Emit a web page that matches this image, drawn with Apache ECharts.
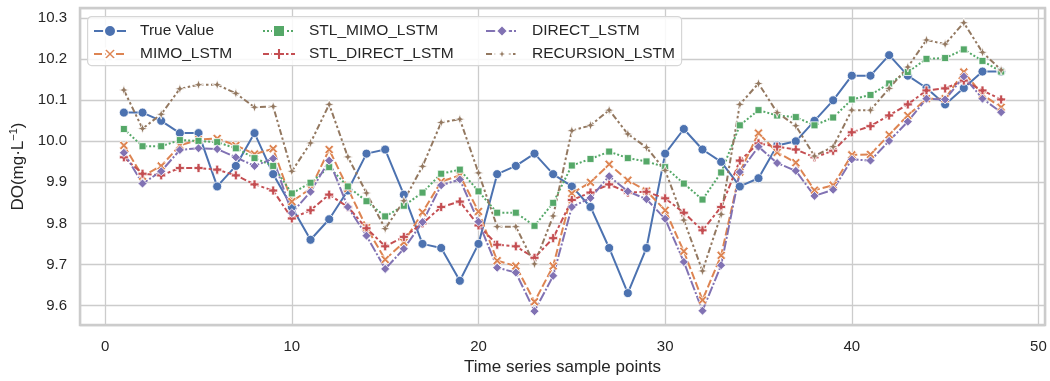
<!DOCTYPE html>
<html>
<head>
<meta charset="utf-8">
<script src="https://cdn.jsdelivr.net/npm/echarts@6/dist/echarts.min.js"></script>
<style>
  html, body { margin: 0; padding: 0; background: #fff; }
  #chart { width: 1050px; height: 381px; }
</style>
</head>
<body>
<div id="chart"></div>
<script>
// sample point index (x)
const samplePoints = [1,2,3,4,5,6,7,8,9,10,11,12,13,14,15,16,17,18,19,20,21,22,23,24,
  25,26,27,28,29,30,31,32,33,34,35,36,37,38,39,40,41,42,43,44,45,46,47,48];

const trueValue = [10.07,10.07,10.05,10.02,10.02,9.89,9.94,10.02,9.92,9.84,9.76,9.81,
  9.88,9.97,9.98,9.87,9.75,9.74,9.66,9.75,9.92,9.94,9.97,9.92,
  9.89,9.84,9.74,9.63,9.74,9.97,10.03,9.98,9.95,9.89,9.91,9.99,
  10.0,10.05,10.10,10.16,10.16,10.21,10.16,10.13,10.09,10.13,10.17,10.17];

const mimoLstm = [9.99,9.915,9.94,9.99,10.004,10.007,9.99,9.969,9.982,9.853,9.885,9.98,
  9.885,9.79,9.712,9.754,9.827,9.902,9.917,9.829,9.709,9.696,9.609,9.696,
  9.873,9.90,9.944,9.905,9.879,9.832,9.732,9.613,9.722,9.925,10.02,9.973,
  9.948,9.881,9.893,9.967,9.968,10.016,10.063,10.104,10.104,10.169,10.114,10.083];

const stlMimoLstm = [10.03,9.988,9.988,10.003,10.001,9.998,9.983,9.959,9.94,9.873,9.899,9.937,
  9.89,9.854,9.817,9.843,9.875,9.921,9.931,9.878,9.826,9.826,9.794,9.85,
  9.941,9.957,9.975,9.959,9.951,9.937,9.897,9.858,9.924,10.039,10.076,10.063,
  10.059,10.039,10.058,10.102,10.113,10.141,10.169,10.201,10.203,10.224,10.196,10.17];

const stlDirectLstm = [9.961,9.921,9.917,9.935,9.935,9.931,9.917,9.895,9.88,9.812,9.832,9.87,
  9.84,9.788,9.744,9.767,9.80,9.84,9.853,9.795,9.748,9.744,9.716,9.764,
  9.857,9.875,9.895,9.875,9.877,9.861,9.826,9.783,9.84,9.953,9.995,9.987,
  9.98,9.961,9.977,10.022,10.037,10.063,10.09,10.124,10.129,10.148,10.124,10.102];

const directLstm = [9.972,9.897,9.927,9.979,9.983,9.981,9.961,9.94,9.958,9.825,9.877,9.953,
  9.84,9.77,9.689,9.738,9.803,9.893,9.907,9.804,9.692,9.68,9.586,9.672,
  9.84,9.862,9.915,9.878,9.859,9.811,9.706,9.587,9.698,9.925,9.987,9.947,
  9.928,9.867,9.882,9.956,9.953,10.001,10.048,10.104,10.102,10.158,10.104,10.071];

const recursionLstm = [10.125,10.031,10.066,10.128,10.138,10.138,10.117,10.083,10.085,9.927,9.996,10.09,
  9.962,9.874,9.787,9.855,9.939,10.046,10.054,9.923,9.792,9.792,9.701,9.818,
  10.026,10.039,10.076,10.018,9.985,9.929,9.808,9.684,9.822,10.09,10.141,10.07,
  10.038,9.964,9.987,10.076,10.076,10.129,10.181,10.247,10.237,10.289,10.217,10.174];

const FONT = '"Liberation Sans", Arial, sans-serif';
const TEXT = '#262626';

// marker shapes (seaborn-like)
const X_MARK = 'path://M2,0L5,3L8,0L10,2L7,5L10,8L8,10L5,7L2,10L0,8L3,5L0,2Z';
const PLUS_MARK = 'path://M3.3,0H6.7V3.3H10V6.7H6.7V10H3.3V6.7H0V3.3H3.3Z';
const STAR4_MARK = 'path://M5,0L6.3,3.7L10,5L6.3,6.3L5,10L3.7,6.3L0,5L3.7,3.7Z';

function makeSeries(name, values, color, symbol, size, dash) {
  return {
    name: name,
    type: 'line',
    data: samplePoints.map((x, i) => [x, values[i]]),
    symbol: symbol,
    symbolSize: size,
    showAllSymbol: true,
    lineStyle: { color: color, width: 2, type: dash },
    itemStyle: { color: color, borderColor: '#ffffff', borderWidth: 0.8 },
    emphasis: { disabled: true },
    animation: false
  };
}

const chart = echarts.init(document.getElementById('chart'));

const legendBase = {
  orient: 'vertical',
  top: 23,
  padding: 0,
  itemGap: 7,
  itemWidth: 32,
  itemHeight: 15,
  z: 5,
  textStyle: { fontFamily: FONT, fontSize: 15.5, color: TEXT, padding: [0, 0, 0, 9] }
};

const option = {
  backgroundColor: '#ffffff',
  animation: false,
  grid: {
    left: 79, right: 5, top: 8, bottom: 53,
    show: true,
    borderColor: '#cccccc',
    borderWidth: 2.5,
    backgroundColor: 'transparent'
  },
  graphic: [{
    type: 'rect',
    left: 87, top: 16, z: 4,
    shape: { width: 594, height: 49, r: 4 },
    style: { fill: 'rgba(255,255,255,0.85)', stroke: '#d6d6d6', lineWidth: 1.2 }
  }],
  legend: [
    Object.assign({}, legendBase, { left: 93, data: ['True Value', 'MIMO_LSTM'] }),
    Object.assign({}, legendBase, { left: 262, data: ['STL_MIMO_LSTM', 'STL_DIRECT_LSTM'] }),
    Object.assign({}, legendBase, { left: 485, data: ['DIRECT_LSTM', 'RECURSION_LSTM'] })
  ],
  xAxis: {
    type: 'value',
    min: -1.35,
    max: 50.35,
    splitNumber: 5,
    minInterval: 10,
    maxInterval: 10,
    name: 'Time series sample points',
    nameLocation: 'middle',
    nameGap: 32,
    nameTextStyle: { fontFamily: FONT, fontSize: 17, color: TEXT },
    axisLine: { show: false },
    axisTick: { show: false },
    axisLabel: {
      fontFamily: FONT, fontSize: 15, color: TEXT, margin: 14,
      formatter: v => (Math.abs(v - Math.round(v / 10) * 10) < 1e-6 ? String(Math.round(v)) : '')
    },
    splitLine: { show: true, lineStyle: { color: '#cccccc', width: 1.3 } }
  },
  yAxis: {
    type: 'value',
    min: 9.552,
    max: 10.325,
    splitNumber: 7,
    minInterval: 0.1,
    maxInterval: 0.1,
    name: 'DO(mg·L{s|−1})',
    nameLocation: 'middle',
    nameRotate: 90,
    nameGap: 52,
    nameTextStyle: {
      fontFamily: FONT, fontSize: 17, color: TEXT,
      rich: { s: { fontFamily: FONT, fontSize: 11, color: TEXT, padding: [0, 0, 9, 0] } }
    },
    axisLine: { show: false },
    axisTick: { show: false },
    axisLabel: {
      fontFamily: FONT, fontSize: 15, color: TEXT, margin: 13,
      formatter: v => (Math.abs(v * 10 - Math.round(v * 10)) < 1e-6 ? v.toFixed(1) : '')
    },
    splitLine: { show: true, lineStyle: { color: '#cccccc', width: 1.3 } }
  },
  series: [
    makeSeries('True Value', trueValue, '#4C72B0', 'circle', 9, 'solid'),
    makeSeries('MIMO_LSTM', mimoLstm, '#DD8452', X_MARK, 9, [8, 3]),
    makeSeries('STL_MIMO_LSTM', stlMimoLstm, '#55A868', 'rect', 7, [2, 2]),
    makeSeries('STL_DIRECT_LSTM', stlDirectLstm, '#C44E52', PLUS_MARK, 9, [6, 2.5, 3, 2.5]),
    makeSeries('DIRECT_LSTM', directLstm, '#8172B3', 'diamond', 9, [10, 2, 2, 2]),
    makeSeries('RECURSION_LSTM', recursionLstm, '#937860', STAR4_MARK, 10, [6, 2.5, 2.5, 2.5, 2.5, 2.5])
  ]
};

chart.setOption(option);
</script>
</body>
</html>
